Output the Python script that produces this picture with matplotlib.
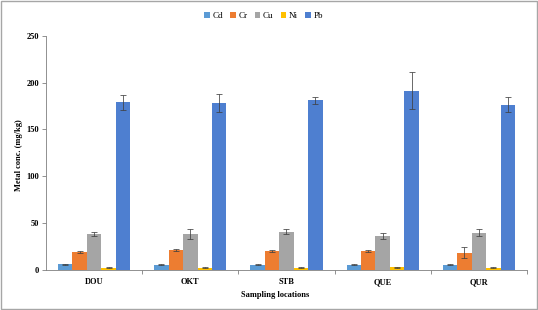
#!/usr/bin/env python3
"""Grouped bar chart of metal concentrations at five sampling locations."""

import matplotlib

matplotlib.use("Agg")
import matplotlib.pyplot as plt
import numpy as np
from matplotlib.patches import Rectangle

LOCATIONS = ["DOU", "OKT", "STB", "QUE", "QUR"]
METALS = ["Cd", "Cr", "Cu", "Ni", "Pb"]

CD = [5.5, 5.0, 5.0, 5.0, 5.0]
CR = [19.0, 21.0, 20.0, 20.0, 18.0]
CU = [38.0, 37.7, 40.5, 36.0, 39.5]
NI = [2.0, 2.0, 2.0, 2.5, 2.0]
PB = [179.0, 178.6, 181.0, 191.4, 176.5]

CD_ERR = [0.6, 0.5, 0.5, 0.5, 0.5]
CR_ERR = [1.2, 1.0, 0.8, 1.0, 6.0]
CU_ERR = [2.0, 5.5, 3.0, 3.0, 3.5]
NI_ERR = [0.4, 0.4, 0.4, 0.5, 0.4]
PB_ERR = [8.0, 9.8, 4.0, 20.0, 8.0]

COLORS = ["#5B9BD5", "#ED7D31", "#A5A5A5", "#FFC000", "#4E7FD0"]

plt.rcParams.update({"font.family": ["Liberation Serif", "DejaVu Serif"]})

fig = plt.figure(figsize=(5.38, 3.10), dpi=100, facecolor="white")
ax = fig.add_axes((0.0855, 0.1306, 0.894, 0.7533))

series = [CD, CR, CU, NI, PB]
errors = [CD_ERR, CR_ERR, CU_ERR, NI_ERR, PB_ERR]
x = np.arange(len(LOCATIONS))
width = 0.15
for index, (metal, values, err, color) in enumerate(zip(METALS, series, errors, COLORS)):
    ax.bar(
        x + (index - 2) * width,
        values,
        width=width,
        color=color,
        edgecolor="none",
        label=metal,
        yerr=err,
        error_kw={"ecolor": "#404040", "elinewidth": 0.55, "capsize": 2.0, "capthick": 0.55},
        zorder=2,
    )

ax.set_xlim(-0.5, 4.5)
ax.set_ylim(0, 250)
ax.set_yticks(range(0, 251, 50))
ax.tick_params(axis="y", labelsize=6, length=3, width=0.6, color="#7F7F7F", pad=2)
for label in ax.get_yticklabels():
    label.set_fontweight("bold")

ax.set_xticks(x, labels=LOCATIONS)
ax.tick_params(axis="x", which="major", length=0, labelsize=6, pad=6)
for label in ax.get_xticklabels():
    label.set_fontweight("bold")
ax.set_xticks(np.arange(0.5, 5.0, 1.0), minor=True)
ax.tick_params(axis="x", which="minor", length=3, width=0.6, color="#7F7F7F")

ax.spines["top"].set_visible(False)
ax.spines["right"].set_visible(False)
ax.spines["left"].set_color("#7F7F7F")
ax.spines["bottom"].set_color("#7F7F7F")
ax.spines["left"].set_linewidth(0.6)
ax.spines["bottom"].set_linewidth(0.6)

ax.set_ylabel("Metal conc. (mg/kg)", fontsize=6, fontweight="bold")
ax.yaxis.set_label_coords(-0.048, 0.49)
ax.set_xlabel("Sampling locations", fontsize=6, fontweight="bold", labelpad=2)
ax.xaxis.set_label_coords(0.477, -0.09)

fig.legend(
    loc="center",
    bbox_to_anchor=(0.49, 0.947),
    ncol=5,
    frameon=False,
    fontsize=6.5,
    handlelength=0.6,
    handleheight=0.6,
    handletextpad=0.3,
    columnspacing=0.8,
)

fig.add_artist(
    Rectangle((0.001, 0.002), 0.997, 0.995, transform=fig.transFigure,
              fill=False, edgecolor="#A6A6A6", linewidth=1.0)
)

fig.savefig("out.png", dpi=100, facecolor="white")
